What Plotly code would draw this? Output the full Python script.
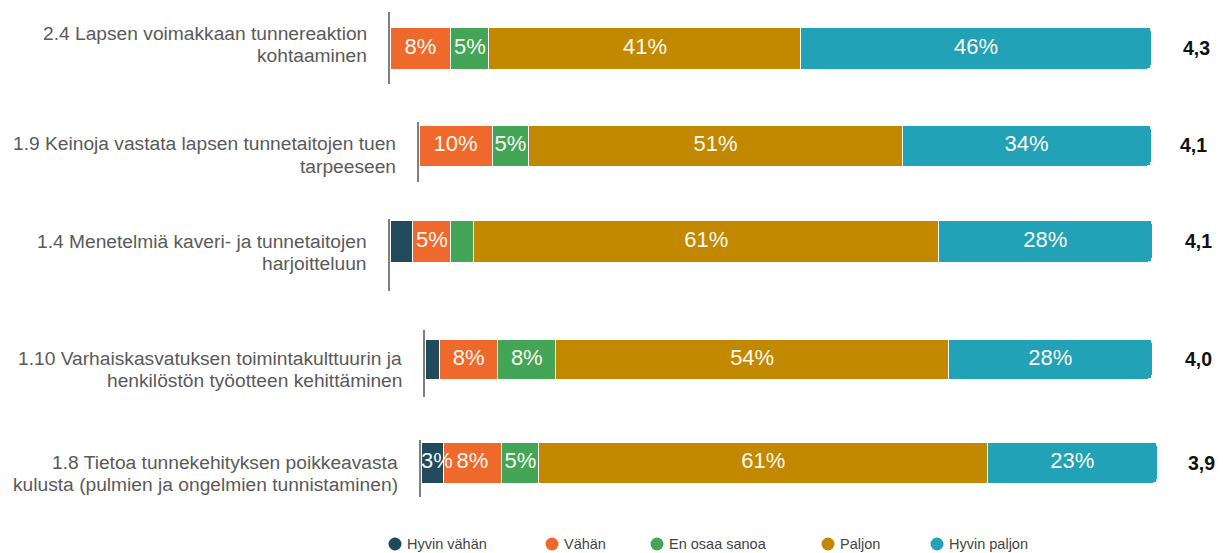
import plotly.graph_objects as go

W, H = 1223, 553

# ---------------- data ----------------
categories = [
    "2.4 Lapsen voimakkaan tunnereaktion<br>kohtaaminen",
    "1.9 Keinoja vastata lapsen tunnetaitojen tuen<br>tarpeeseen",
    "1.4 Menetelmiä kaveri- ja tunnetaitojen<br>harjoitteluun",
    "1.10 Varhaiskasvatuksen toimintakulttuurin ja<br>henkilöstön työotteen kehittäminen",
    "1.8 Tietoa tunnekehityksen poikkeavasta<br>kulusta (pulmien ja ongelmien tunnistaminen)",
]
series_names = ["Hyvin vähän", "Vähän", "En osaa sanoa", "Paljon", "Hyvin paljon"]
hyvin_vahan = [0, 0, 3, 2, 3]
vahan = [8, 10, 5, 8, 8]
en_osaa_sanoa = [5, 5, 3, 8, 5]
paljon = [41, 51, 61, 54, 61]
hyvin_paljon = [46, 34, 28, 28, 23]
averages = ["4,3", "4,1", "4,1", "4,0", "3,9"]
# segments whose percentage label is not printed: (series index, row index)
hidden_labels = {(0, 0), (0, 1), (0, 2), (0, 3), (2, 2)}

series_values = [hyvin_vahan, vahan, en_osaa_sanoa, paljon, hyvin_paljon]
colors = ["#1f4b5d", "#f0692c", "#44a556", "#c28900", "#22a2b6"]

# ---------------- layout geometry (pixels) ----------------
# axis_x, bar_right, line_top, line_bottom, bar_top, bar_bottom, score_x, label_first_line_y
geom = [
    (390, 1151, 12, 84, 27, 69, 1196, 34),
    (419, 1151, 122, 182, 125, 166, 1193, 144),
    (390, 1152, 219, 291, 220, 262, 1198, 241),
    (425, 1152, 330, 397, 339, 379, 1198, 358),
    (421, 1157, 440, 497, 442, 483, 1201, 462),
]
label_line_gap = 22
label_standoff = 21
legend_circle_x = [395, 552, 657, 828, 937]
legend_y = 544

font_family = "Liberation Sans, Arial, sans-serif"

fig = go.Figure()
layout = dict(
    width=W, height=H,
    margin=dict(l=0, r=0, t=0, b=0),
    paper_bgcolor="white", plot_bgcolor="white",
    barmode="stack", barcornerradius=4,
    font=dict(family=font_family, color="#555555"),
    showlegend=False,
    annotations=[], shapes=[],
)

for r, (ax_x, bar_r, lt, lb, bt, bb, sx, ly) in enumerate(geom):
    idx = "" if r == 0 else str(r + 1)
    xname, yname = "x" + idx, "y" + idx
    h = bb - bt
    c = (bt + bb) / 2
    top = (c - lt) / h
    bot = -(lb - c) / h
    layout["xaxis" + idx] = dict(
        domain=[ax_x / W, bar_r / W], range=[0, 100], visible=False,
        anchor=yname, fixedrange=True,
    )
    layout["yaxis" + idx] = dict(
        domain=[1 - lb / H, 1 - lt / H], range=[bot, top], anchor=xname,
        showline=True, linecolor="#7f7f7f", linewidth=2, showgrid=False,
        zeroline=False, ticks="", showticklabels=False,
        type="category", fixedrange=True, layer="below traces",
    )
    xs, texts, positions = [], [], []
    cum = 0
    for s, vals in enumerate(series_values):
        v = vals[r]
        fig.add_trace(go.Bar(
            x=[v], y=[categories[r]], orientation="h", name=series_names[s],
            xaxis=xname, yaxis=yname, width=1,
            marker=dict(color=colors[s], line=dict(color="white", width=1)),
            hoverinfo="skip",
        ))
        if (s, r) not in hidden_labels:
            texts.append(f"{v}%")
            if v < 4:  # label wider than its segment: start it at the segment start
                xs.append(cum)
                positions.append("middle right")
            else:
                xs.append(cum + v / 2)
                positions.append("middle center")
        cum += v
    # percentage labels on top of all segments of the row
    fig.add_trace(go.Scatter(
        x=xs, y=[categories[r]] * len(xs), mode="text", text=texts,
        textposition=positions, xaxis=xname, yaxis=yname,
        textfont=dict(color="#fbf8f0", size=22, family=font_family),
        cliponaxis=False, hoverinfo="skip",
    ))
    # category label (right aligned, two lines)
    for k, line in enumerate(categories[r].split("<br>")):
        layout["annotations"].append(dict(
            x=(ax_x - label_standoff) / W, xref="paper", xanchor="right",
            y=1 - (ly + k * label_line_gap) / H, yref="paper", yanchor="middle",
            text=line, showarrow=False,
            font=dict(size=19.2, color="#5a5a5a", family=font_family),
        ))
    # average score
    layout["annotations"].append(dict(
        x=sx / W, xref="paper", y=categories[r], yref=yname,
        text=f"<b>{averages[r]}</b>", showarrow=False, xanchor="center",
        font=dict(size=19.5, color="#111111", family=font_family),
    ))

# legend (circle + label)
rad = 6.5
for s, name in enumerate(series_names):
    cx = legend_circle_x[s]
    layout["shapes"].append(dict(
        type="circle", xref="paper", yref="paper",
        x0=(cx - rad) / W, x1=(cx + rad) / W,
        y0=1 - (legend_y + rad) / H, y1=1 - (legend_y - rad) / H,
        fillcolor=colors[s], line=dict(width=0),
    ))
    layout["annotations"].append(dict(
        x=(cx + 10) / W, xref="paper", xanchor="left",
        y=1 - legend_y / H, yref="paper", yanchor="middle",
        text=name, showarrow=False,
        font=dict(size=14.5, color="#444444", family=font_family),
    ))

fig.update_layout(**layout)
fig.write_html("out.html")
